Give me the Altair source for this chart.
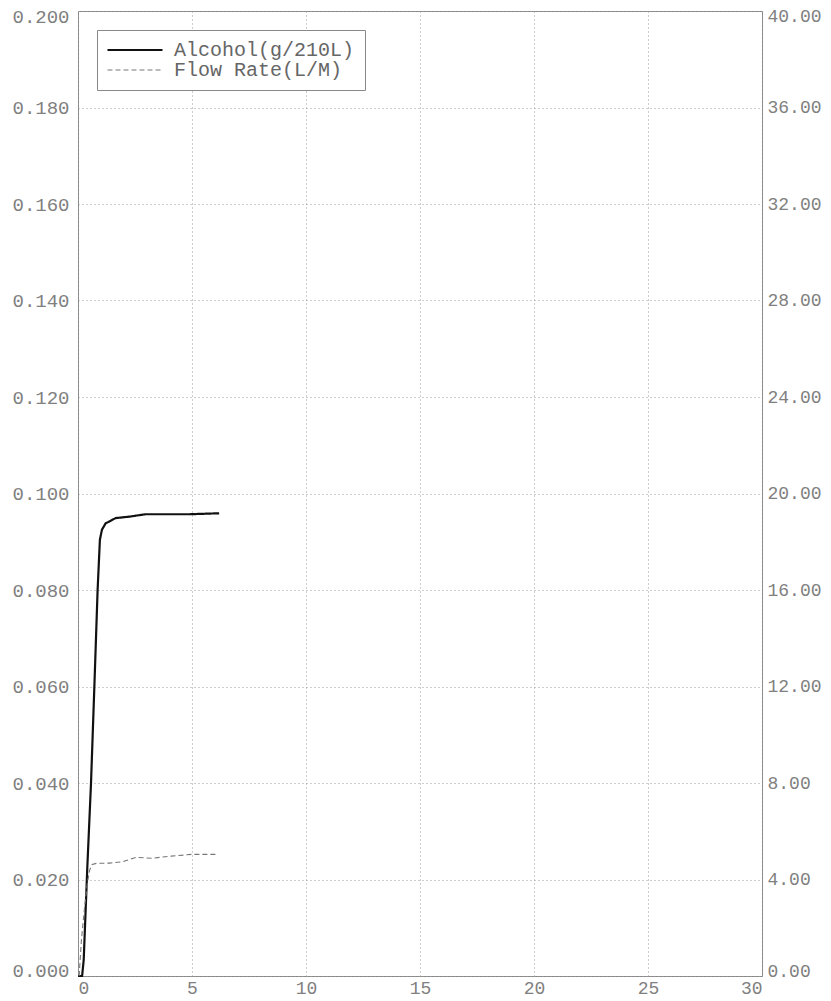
import altair as alt
import pandas as pd

# ---- data ----
series = ["Alcohol(g/210L)", "Flow Rate(L/M)"]

alc_t = [0.0, 0.18, 0.25, 0.41, 0.57, 0.72, 0.86, 0.96, 1.05, 1.21, 1.65, 2.24, 2.97, 4.0, 4.87, 6.19]
alc_v = [0.0, 0.0, 0.0033, 0.0227, 0.0399, 0.0603, 0.0800, 0.0904, 0.0925, 0.0938,
         0.0949, 0.0952, 0.0957, 0.0957, 0.0957, 0.0959]

flow_t = [0.05, 0.15, 0.29, 0.41, 0.51, 0.62, 0.81, 1.4, 1.97, 2.56, 3.22, 4.1, 4.97, 6.14]
flow_v = [0.0, 1.49, 2.87, 3.84, 4.39, 4.62, 4.67, 4.68, 4.74, 4.92, 4.88, 4.97, 5.04, 5.04]

x_ticks = [0, 5, 10, 15, 20, 25, 30]
left_ticks = [0.0, 0.02, 0.04, 0.06, 0.08, 0.10, 0.12, 0.14, 0.16, 0.18, 0.20]
right_ticks = [0, 4, 8, 12, 16, 20, 24, 28, 32, 36, 40]

alc_df = pd.DataFrame({"t": alc_t, "v": alc_v, "series": series[0]})
flow_df = pd.DataFrame({"t": flow_t, "v": flow_v, "series": series[1]})

FONT = "Liberation Mono"
LABEL_COLOR = "#808080"
GRID_COLOR = "#9a9a9a"

legend = alt.Legend(
    title=None,
    orient="none",
    legendX=19,
    legendY=19,
    strokeColor="#888888",
    fillColor="white",
    padding=10,
    symbolType="M-5,0H5",
    symbolSize=121,
    symbolOffset=18,
    labelFont=FONT,
    labelFontSize=20,
    labelColor="#666666",
    labelOffset=29,
    labelLimit=400,
    rowPadding=-4,
)

x_enc = alt.X(
    "t:Q",
    scale=alt.Scale(domain=[0, 30], nice=False, zero=False),
    axis=alt.Axis(
        values=x_ticks, format="d", title=None, grid=True,
        gridDash=[1, 3], gridColor=GRID_COLOR, gridWidth=1,
        domain=False, ticks=False, labelPadding=3,
        labelFont=FONT, labelFontSize=18, labelColor=LABEL_COLOR,
    ),
)

color_enc = alt.Color("series:N", scale=alt.Scale(domain=series, range=["#111111", "#777777"]), legend=legend)
dash_enc = alt.StrokeDash("series:N", scale=alt.Scale(domain=series, range=[[1, 0], [5, 3]]), legend=legend)
width_enc = alt.StrokeWidth("series:N", scale=alt.Scale(domain=series, range=[2.2, 1.1]), legend=legend)

alc = alt.Chart(alc_df).mark_line(interpolate="linear").encode(
    x=x_enc,
    y=alt.Y(
        "v:Q",
        scale=alt.Scale(domain=[0, 0.2], nice=False),
        axis=alt.Axis(
            orient="left", values=left_ticks, format=".3f", title=None,
            grid=True, gridDash=[1, 3], gridColor=GRID_COLOR, gridWidth=1,
            domain=False, ticks=False, labelPadding=9,
            labelFlush=True, labelFlushOffset=4,
            labelFont=FONT, labelFontSize=19, labelColor=LABEL_COLOR,
        ),
    ),
    color=color_enc,
    strokeDash=dash_enc,
    strokeWidth=width_enc,
)

flow = alt.Chart(flow_df).mark_line(interpolate="linear").encode(
    x=x_enc,
    y=alt.Y(
        "v:Q",
        scale=alt.Scale(domain=[0, 40], nice=False),
        axis=alt.Axis(
            orient="right", values=right_ticks, format=".2f", title=None,
            grid=False, domain=False, ticks=False, labelPadding=5,
            labelFlush=True, labelFlushOffset=4,
            labelFont=FONT, labelFontSize=18, labelColor=LABEL_COLOR,
        ),
    ),
    color=color_enc,
    strokeDash=dash_enc,
    strokeWidth=width_enc,
)

chart = (
    alt.layer(alc, flow)
    .resolve_scale(y="independent")
    .properties(
        width=684,
        height=965,
        padding={"left": 70, "top": 3, "right": 60, "bottom": 23},
        autosize=alt.AutoSizeParams(type="none"),
        background="white",
    )
    .configure_view(stroke="#888888", strokeWidth=1)
)

chart.save("out.html", embed_options={"renderer": "svg", "actions": False})
